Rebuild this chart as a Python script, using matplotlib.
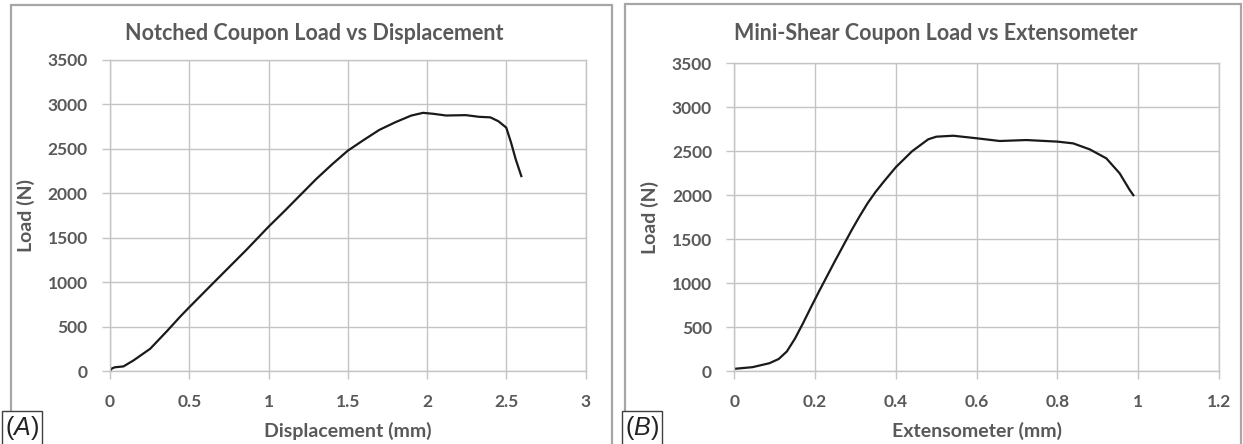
import matplotlib
matplotlib.use('Agg')
import matplotlib.pyplot as plt
from matplotlib.patches import Rectangle

plt.rcParams['font.family'] = ['Lato', 'DejaVu Sans']
plt.rcParams['mathtext.fontset'] = 'custom'
plt.rcParams['mathtext.rm'] = 'Liberation Sans'
plt.rcParams['mathtext.it'] = 'Liberation Sans:italic'

# notched coupon: load vs displacement
disp_mm = [0, 0.01, 0.03, 0.085, 0.148, 0.254, 0.361, 0.443, 0.5, 0.653, 0.863, 1.0,
           1.1, 1.2, 1.3, 1.4, 1.5, 1.6, 1.7, 1.8, 1.9, 1.975, 2.04, 2.12, 2.245,
           2.33, 2.4, 2.45, 2.5, 2.53, 2.56, 2.595]
notched_load = [0, 30, 45, 55, 122, 254, 455, 615, 720, 995, 1370, 1625,
                1800, 1980, 2160, 2325, 2480, 2600, 2715, 2800, 2875, 2906, 2895, 2876, 2880,
                2861, 2855, 2812, 2740, 2573, 2382, 2195]

# mini-shear coupon: load vs extensometer
ext_mm = [0, 0.045, 0.087, 0.11, 0.13, 0.15, 0.17, 0.19, 0.21, 0.23, 0.25, 0.27,
          0.29, 0.31, 0.33, 0.35, 0.37, 0.4, 0.44, 0.48, 0.5, 0.542, 0.6, 0.657,
          0.723, 0.8, 0.839, 0.88, 0.921, 0.954, 0.979, 0.988]
shear_load = [28, 47, 92, 140, 225, 370, 545, 730, 910, 1085, 1260, 1430,
              1600, 1760, 1910, 2040, 2155, 2320, 2500, 2636, 2666, 2677, 2648, 2617,
              2628, 2610, 2590, 2522, 2420, 2250, 2060, 2001]

left_xticks = [0, 0.5, 1, 1.5, 2, 2.5, 3]
left_xlabels = ['0', '0.5', '1', '1.5', '2', '2.5', '3']
right_xticks = [0, 0.2, 0.4, 0.6, 0.8, 1.0, 1.2]
right_xlabels = ['0', '0.2', '0.4', '0.6', '0.8', '1', '1.2']
yticks = [0, 500, 1000, 1500, 2000, 2500, 3000, 3500]

W, H = 1243, 444
fig = plt.figure(figsize=(W / 100, H / 100), dpi=100)

txt = '#595959'
grid = '#c4c4c4'


def px(x0, y0, x1, y1):
    # pixel box (top-left origin) -> figure fraction rect
    return [x0 / W, 1 - y1 / H, (x1 - x0) / W, (y1 - y0) / H]


# panel frames
fig.add_artist(Rectangle((11 / W, -0.01), (612 - 11) / W, 1 - 5 / H + 0.01,
                         transform=fig.transFigure, fill=False, ec='#a6a6a6', lw=1.6))
fig.add_artist(Rectangle((625 / W, -0.01), (1241 - 625) / W, 1 - 4 / H + 0.01,
                         transform=fig.transFigure, fill=False, ec='#a6a6a6', lw=1.6))

ax1 = fig.add_axes(px(110, 60, 585.5, 371.3))
ax2 = fig.add_axes(px(734.3, 63.3, 1219, 371.3))

ax1.plot(disp_mm, notched_load, color='#1a1a1a', lw=1.6)
ax2.plot(ext_mm, shear_load, color='#1a1a1a', lw=1.6)

for ax, xt, xl, xlab in [(ax1, left_xticks, left_xlabels, 'Displacement (mm)'),
                         (ax2, right_xticks, right_xlabels, 'Extensometer (mm)')]:
    ax.set_xlim(xt[0], xt[-1])
    ax.set_ylim(0, 3500)
    ax.set_xticks(xt)
    ax.set_xticklabels(xl)
    ax.set_yticks(yticks)
    ax.grid(True, color=grid, lw=1.0)
    ax.set_axisbelow(True)
    for s in ax.spines.values():
        s.set_color(grid)
        s.set_linewidth(1.0)
    ax.tick_params(axis='both', colors=grid, labelcolor=txt, labelsize=12.5,
                   length=6, width=1.0, pad=10)
    for lab in ax.get_xticklabels() + ax.get_yticklabels():
        lab.set_fontweight('bold')
    ax.set_xlabel(xlab, fontsize=14, fontweight='bold', color=txt, labelpad=9)
    ax.set_ylabel('Load (N)', fontsize=14, fontweight='bold', color=txt, labelpad=9)

fig.text(314 / W, 1 - 33 / H, 'Notched Coupon Load vs Displacement', ha='center', va='center',
         fontsize=15.5, fontweight='bold', color=txt)
fig.text(936 / W, 1 - 33 / H, 'Mini-Shear Coupon Load vs Extensometer', ha='center', va='center',
         fontsize=15.5, fontweight='bold', color=txt)

box = dict(boxstyle='square,pad=0.12', fc='white', ec='#404040', lw=1.0)
fig.text(5 / W, 1 - 428 / H, r'$\mathrm{(}\mathit{A}\mathrm{)}$', ha='left', va='center',
         fontsize=18, color='#222222', bbox=box)
fig.text(625 / W, 1 - 428 / H, r'$\mathrm{(}\mathit{B}\mathrm{)}$', ha='left', va='center',
         fontsize=18, color='#222222', bbox=box)

fig.savefig('out.png', dpi=100, facecolor='white')
